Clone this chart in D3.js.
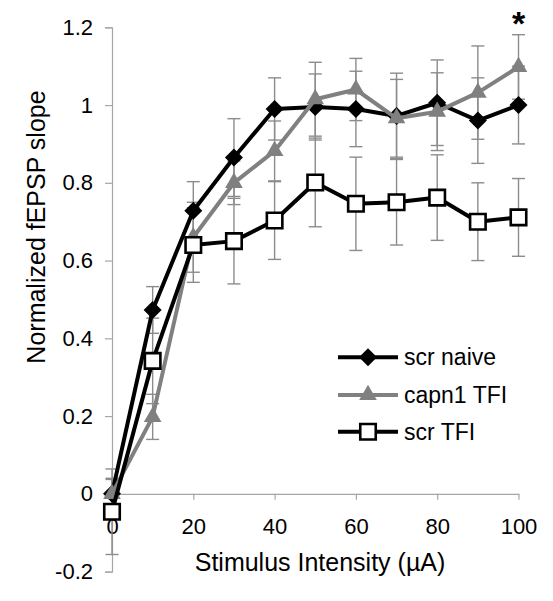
<!DOCTYPE html>
<html>
<head>
<meta charset="utf-8">
<script src="https://cdn.jsdelivr.net/npm/d3@7"></script>
<style>
  html, body { margin: 0; padding: 0; background: #fff; }
  svg { display: block; }
  text { font-family: "Liberation Sans", Arial, sans-serif; fill: #000; }
</style>
</head>
<body>
<svg id="chart" width="553" height="601"></svg>
<script>
// ---- data ----
const intensities = [0, 10, 20, 30, 40, 50, 60, 70, 80, 90, 100];
const scrNaive    = [0.0, 0.473, 0.728, 0.865, 0.99, 0.995, 0.99, 0.972, 1.006, 0.96, 1.0];
const scrNaiveErr = [0.04, 0.06, 0.075, 0.1, 0.08, 0.085, 0.097, 0.11, 0.11, 0.11, 0.1];
const capn1TFI    = [0.0, 0.198, 0.66, 0.8, 0.882, 1.015, 1.04, 0.966, 0.983, 1.032, 1.098];
const capn1TFIErr = [0.037, 0.058, 0.09, 0.056, 0.077, 0.095, 0.08, 0.1, 0.1, 0.12, 0.083];
const scrTFI      = [-0.046, 0.342, 0.64, 0.65, 0.703, 0.801, 0.746, 0.75, 0.762, 0.70, 0.711];
const scrTFIErr   = [0.11, 0.11, 0.096, 0.11, 0.1, 0.114, 0.12, 0.11, 0.11, 0.1, 0.1];
const xTicks = [0, 20, 40, 60, 80, 100];
const yTicks = [-0.2, 0, 0.2, 0.4, 0.6, 0.8, 1.0, 1.2];
const yTickLabels = ["-0.2", "0", "0.2", "0.4", "0.6", "0.8", "1", "1.2"];
const seriesNames = ["scr naive", "capn1 TFI", "scr TFI"];
const xTitle = "Stimulus Intensity (\u00B5A)";
const yTitle = "Normalized fEPSP slope";
const sigMark = "*";
const sigAt = 100;

// ---- layout ----
const svg = d3.select("#chart");
const x = d3.scaleLinear().domain([0, 100]).range([112, 518.5]);
const y = d3.scaleLinear().domain([-0.2, 1.2]).range([571.6, 27.3]);
const axisColor = "#a6a6a6";
const errColor = "#8c8c8c";

// y axis
const yAxis = svg.append("g").attr("transform", `translate(${x(0)},0)`)
  .call(d3.axisLeft(y).tickValues(yTicks).tickSize(7).tickPadding(12)
    .tickFormat((d, i) => yTickLabels[i]));
yAxis.select(".domain").attr("stroke", axisColor).attr("stroke-width", 1.2);
yAxis.selectAll(".tick line").attr("stroke", axisColor).attr("stroke-width", 1.2);
yAxis.selectAll(".tick text").attr("font-size", 22).attr("fill", "#000")
  .attr("font-family", "'Liberation Sans', Arial, sans-serif");

// x axis at y=0
const xAxis = svg.append("g").attr("transform", `translate(0,${y(0)})`)
  .call(d3.axisBottom(x).tickValues(xTicks).tickSize(6).tickSizeOuter(0).tickPadding(19));
xAxis.select(".domain").attr("stroke", axisColor).attr("stroke-width", 1.2);
xAxis.selectAll(".tick line").attr("stroke", axisColor).attr("stroke-width", 1.2);
xAxis.selectAll(".tick text").attr("font-size", 22).attr("fill", "#000")
  .attr("font-family", "'Liberation Sans', Arial, sans-serif");

// titles
svg.append("text").attr("x", 320).attr("y", 571).attr("text-anchor", "middle")
  .attr("font-size", 25).text(xTitle);
svg.append("text").attr("transform", "translate(45,227) rotate(-90)")
  .attr("text-anchor", "middle").attr("font-size", 25).text(yTitle);

// custom diamond (square rotated 45deg)
const diamondType = {
  draw(ctx, size) {
    const r = Math.sqrt(size) / 2;
    ctx.moveTo(0, -r); ctx.lineTo(r, 0); ctx.lineTo(0, r); ctx.lineTo(-r, 0); ctx.closePath();
  }
};

const series = [
  { name: seriesNames[0], vals: scrNaive, err: scrNaiveErr, color: "#000",
    symbol: d3.symbol().type(diamondType).size(18 * 18), fill: "#000", stroke: "none", sw: 0 },
  { name: seriesNames[1], vals: capn1TFI, err: capn1TFIErr, color: "#808080",
    symbol: d3.symbol().type(d3.symbolTriangle).size(135), fill: "#808080", stroke: "none", sw: 0 },
  { name: seriesNames[2], vals: scrTFI, err: scrTFIErr, color: "#000",
    symbol: d3.symbol().type(d3.symbolSquare).size(15.5 * 15.5), fill: "#fff", stroke: "#000", sw: 2.6 }
];

// error bars
const capW = 6.5;
series.forEach(s => {
  const g = svg.append("g");
  intensities.forEach((xv, i) => {
    const lo = s.vals[i] - s.err[i], hi = s.vals[i] + s.err[i];
    g.append("line").attr("x1", x(xv)).attr("x2", x(xv)).attr("y1", y(lo)).attr("y2", y(hi))
      .attr("stroke", errColor).attr("stroke-width", 1.4);
    [lo, hi].forEach(v => g.append("line").attr("x1", x(xv) - capW).attr("x2", x(xv) + capW)
      .attr("y1", y(v)).attr("y2", y(v)).attr("stroke", errColor).attr("stroke-width", 1.4));
  });
});

// lines + markers
const line = d3.line().x((d, i) => x(intensities[i])).y(d => y(d));
series.forEach(s => {
  svg.append("path").attr("d", line(s.vals)).attr("fill", "none")
    .attr("stroke", s.color).attr("stroke-width", 4).attr("stroke-linejoin", "round");
  svg.append("g").selectAll("path").data(s.vals).join("path")
    .attr("transform", (d, i) => `translate(${x(intensities[i])},${y(d)})`)
    .attr("d", s.symbol()).attr("fill", s.fill).attr("stroke", s.stroke).attr("stroke-width", s.sw);
});

// significance asterisk
svg.append("text").attr("x", x(sigAt)).attr("y", 35).attr("text-anchor", "middle")
  .attr("font-size", 34).attr("font-weight", "bold").text(sigMark);

// legend
const legY = [357.3, 395, 431.7];
series.forEach((s, i) => {
  const g = svg.append("g").attr("transform", `translate(0,${legY[i]})`);
  g.append("line").attr("x1", 338).attr("x2", 398).attr("y1", 0).attr("y2", 0)
    .attr("stroke", s.color).attr("stroke-width", 4);
  g.append("path").attr("transform", "translate(368,0)").attr("d", s.symbol())
    .attr("fill", s.fill).attr("stroke", s.stroke).attr("stroke-width", s.sw);
  g.append("text").attr("x", 404).attr("y", 8).attr("font-size", 23).text(s.name);
});
</script>
</body>
</html>
